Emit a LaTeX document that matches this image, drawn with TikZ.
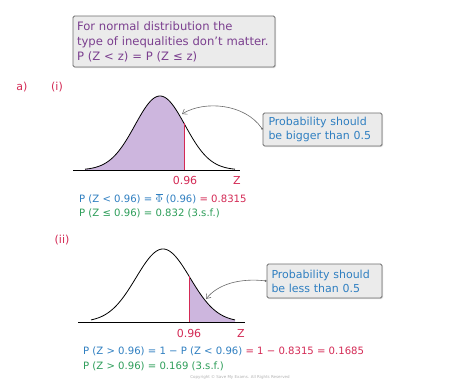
\documentclass[tikz,border=0pt]{standalone}
\usepackage{fontspec}
\setmainfont{DejaVu Sans}
\usetikzlibrary{arrows.meta,shadows}
\definecolor{smpurple}{HTML}{7B3F8F}
\definecolor{smred}{HTML}{D42A55}
\definecolor{smblue}{HTML}{2F7FC1}
\definecolor{smgreen}{HTML}{2E9E5A}
\definecolor{smlav}{HTML}{CDB6DE}
\definecolor{smbox}{HTML}{EBEBEB}
\definecolor{smedge}{HTML}{6E6E6E}
\begin{document}
\begin{tikzpicture}[x=1pt,y=-1pt,
  every node/.style={font=\fontsize{11}{14}\selectfont},
  notebox/.style={draw=smedge,fill=smbox,line width=0.8pt,rounded corners=1.5pt,
    drop shadow={opacity=0.25,shadow xshift=1pt,shadow yshift=-1pt},
    align=left,inner sep=0pt},
  lbl/.style={text=smred,inner sep=0pt},
  eq/.style={anchor=west,inner sep=0pt,font=\fontsize{10.1}{13}\selectfont},
  curve/.style={line width=0.8pt,black},
  cut/.style={smred,line width=0.9pt},
  callarrow/.style={draw=smedge,line width=0.6pt,{Circle[length=2pt]}-{Straight Barb[length=4pt,width=6pt]}}]
\useasboundingbox (0,0) rectangle (474,380);
\fill[white] (0,0) rectangle (474,380);

% top note
\node[notebox,minimum width=202pt,minimum height=51pt,text=smpurple,text width=194pt,
  font=\fontsize{11.6}{15}\selectfont] (note) at (174,41.5)
  {For normal distribution the\\type of inequalities don’t matter.\\P (Z < z) = P (Z ≤ z)};

% labels
\node[lbl] (a) at (22,87) {a)};
\node[lbl] (i) at (57,87) {(i)};
\node[lbl] (ii) at (62,240) {(ii)};

% curve (i)
\fill[smlav] (85,170) -- plot[domain=85:184,samples=80] (\x,{170-74*exp(-((\x-160)/25)^2/2)}) -- (184,170) -- cycle;
\draw[curve] plot[domain=85:235,samples=120] (\x,{170-74*exp(-((\x-160)/25)^2/2)});
\draw[curve] (73,170) -- (240,170);
\coordinate (cut1top) at (184,{170-74*exp(-((184-160)/25)^2/2)});
\coordinate (cut1bot) at (184,170);
\draw[cut] (cut1bot) -- (cut1top);
\node[lbl] (v1) at (185,180) {0.96};
\node[lbl] (z1) at (237,180) {Z};
\coordinate (tip1) at (182,114);

\node[notebox,minimum width=119pt,minimum height=33pt,text=smblue,text width=108pt] (call1) at (322.5,129.5)
  {Probability should\\be bigger than 0.5};
\draw[callarrow] (call1.west) .. controls (245,104) and (205,100) .. (tip1);

% formulas (i)
\node[eq] (f1) at (79,199) {\textcolor{smblue}{P (Z < 0.96) = $\overline{\Phi}$ (0.96)} \textcolor{smred}{= 0.8315}};
\node[eq] (f2) at (79,213.5) {\textcolor{smgreen}{P (Z ≤ 0.96) = 0.832 (3.s.f.)}};

% curve (ii)
\fill[smlav] (189,322) -- plot[domain=189:235,samples=60] (\x,{322-73*exp(-((\x-163)/27)^2/2)}) -- (235,322) -- cycle;
\draw[curve] plot[domain=91:235,samples=120] (\x,{322-73*exp(-((\x-163)/27)^2/2)});
\draw[curve] (78,322) -- (245,322);
\coordinate (cut2top) at (189,{322-73*exp(-((189-163)/27)^2/2)});
\coordinate (cut2bot) at (189,322);
\draw[cut] (cut2bot) -- (cut2top);
\node[lbl] (v2) at (189,333) {0.96};
\node[lbl] (z2) at (241,333) {Z};
\coordinate (tip2) at (206,299);

\node[notebox,minimum width=115pt,minimum height=34pt,text=smblue,text width=106pt] (call2) at (324.5,281)
  {Probability should\\be less than 0.5};
\draw[callarrow] (call2.west) .. controls (240,278) and (218,284) .. (tip2);

% formulas (ii)
\node[eq] (g1) at (83,351) {\textcolor{smblue}{P (Z > 0.96) = 1 − P (Z < 0.96)} \textcolor{smred}{= 1 − 0.8315 = 0.1685}};
\node[eq] (g2) at (83,366) {\textcolor{smgreen}{P (Z > 0.96) = 0.169 (3.s.f.)}};

\node[text=gray!60,font=\fontsize{4}{5}\selectfont] (copy) at (240,377) {Copyright © Save My Exams. All Rights Reserved};
\end{tikzpicture}
\end{document}
